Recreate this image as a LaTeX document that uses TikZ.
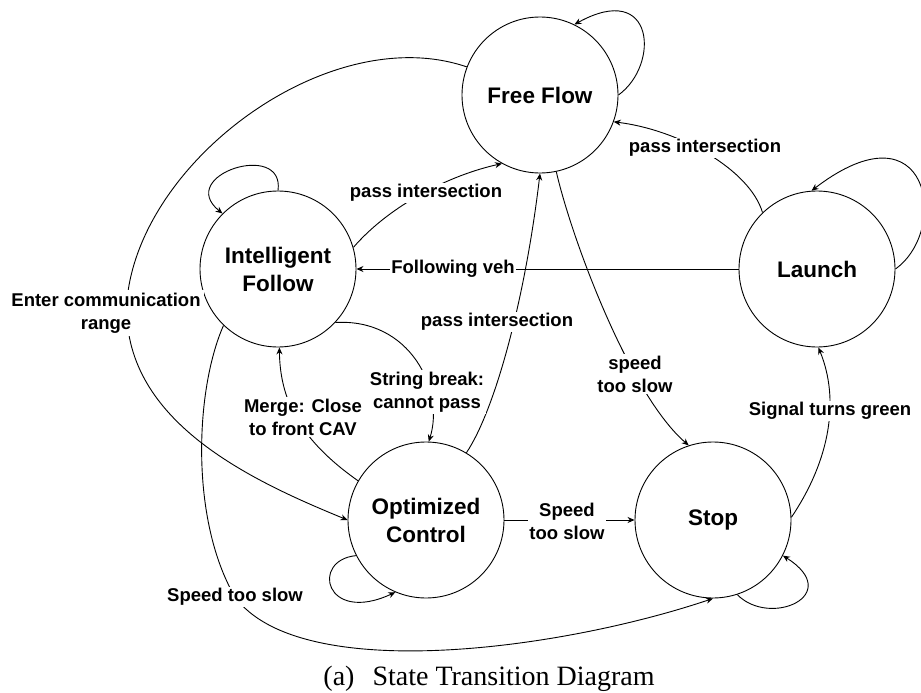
\documentclass[tikz,border=0pt]{standalone}
\usepackage{fontspec}
\setmainfont{Liberation Sans}
\newfontfamily\capfont{Liberation Serif}
\usetikzlibrary{arrows.meta}
\begin{document}
\begin{tikzpicture}[x=1pt,y=-1pt,line width=0.9pt,
  state/.style={circle,draw,minimum size=156pt,inner sep=0pt,align=center,
    font=\bfseries\fontsize{22.5}{28}\selectfont},
  lbl/.style={fill=white,inner sep=1.5pt,align=center,
    font=\bfseries\fontsize{18.5}{23}\selectfont},
  arr/.style={-{Stealth[length=7pt,width=6pt]}}]
\useasboundingbox (0,0) rectangle (921,693);

\node[state] (FF) at (540,95) {Free Flow};
\node[state] (IF) at (278,269) {Intelligent\\Follow};
\node[state] (L)  at (817,269) {Launch};
\node[state] (OC) at (426,520) {Optimized\\Control};
\node[state] (S)  at (713,520) {Stop};

% self loops
\draw[arr] (FF.0) .. controls (660,65) and (655,-20) .. (FF.64);
\draw[arr] (L.0) .. controls (950,230) and (930,100) .. (L.94);
\draw[arr] (IF.90) .. controls (285,140) and (175,175) .. (IF.135);
\draw[arr] (OC.207) .. controls (310,560) and (325,625) .. (OC.247);
\draw[arr] (S.-72) .. controls (770,628) and (845,595) .. (S.-27);

% transitions
\draw[arr] (FF.159) .. controls (330,20) and (140,160) .. (127,300)
  .. controls (120,420) and (250,480) .. (OC.180);
\draw[arr] (IF.16) .. controls (390,205) and (450,175) .. (FF.241);
\draw[arr] (L.134) .. controls (750,170) and (680,130) .. (FF.-20);
\draw[arr] (L.180) -- (IF.0);
\draw[arr] (IF.-43) .. controls (410,318) and (445,390) .. (OC.88);
\draw[arr] (OC.150) .. controls (300,440) and (280,400) .. (IF.-89);
\draw[arr] (IF.226) .. controls (195,390) and (190,520) .. (235,597)
  .. controls (300,685) and (560,650) .. (S.-90);
\draw[arr] (OC.0) -- (S.180);
\draw[arr] (OC.59) .. controls (495,410) and (525,300) .. (FF.-90);
\draw[arr] (FF.-78) .. controls (572,240) and (630,395) .. (S.108);
\draw[arr] (S.2) .. controls (830,460) and (840,400) .. (L.-89);

% labels
\node[lbl,inner sep=3pt] (l1) at (106,313) {Enter communication\\range};
\node[lbl] (l2) at (426,193) {pass intersection};
\node[lbl] (l3) at (705,148) {pass intersection};
\node[lbl] (l4) at (453,269) {Following veh};
\node[lbl] (l5) at (427,392) {String break:\\cannot pass};
\node[lbl] (l6) at (303,417) {Merge: Close\\to front CAV};
\node[lbl] (l7) at (235,597) {Speed too slow};
\node[lbl] (l8) at (567,521) {Speed\\too slow};
\node[lbl] (l9) at (497,322) {pass intersection};
\node[lbl] (l10) at (635,374) {speed\\too slow};
\node[lbl] (l11) at (830,411) {Signal turns green};

\node[anchor=base west,inner sep=0pt,font=\capfont\fontsize{28}{30}\selectfont] (cap) at (323,685) {(a)\hspace{18pt}State Transition Diagram};
\end{tikzpicture}
\end{document}
